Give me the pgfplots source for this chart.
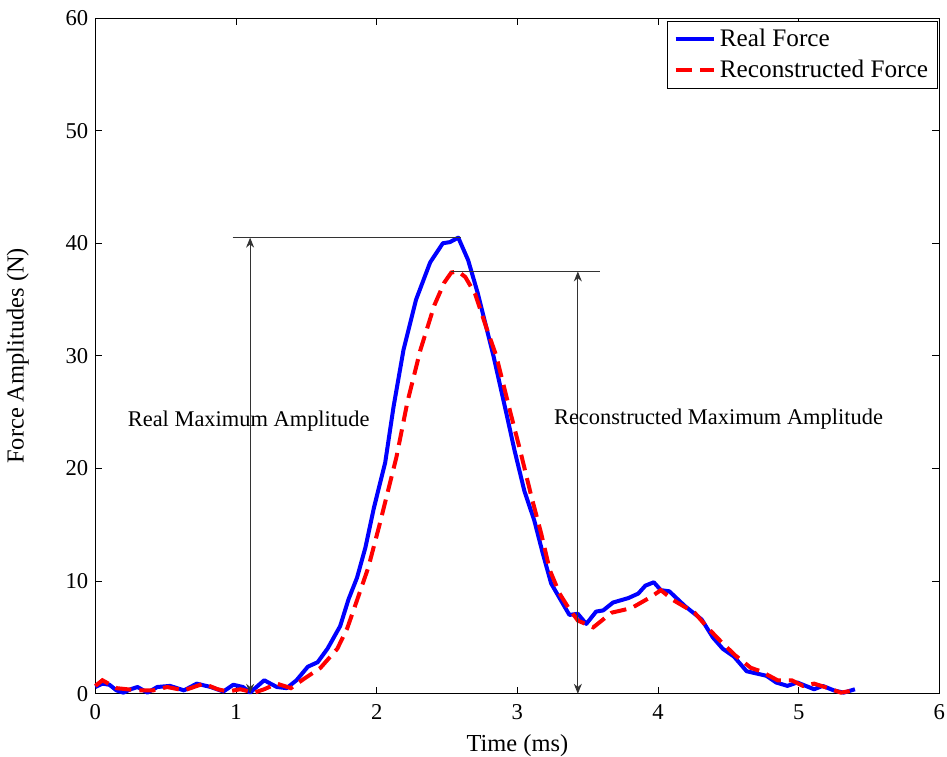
\documentclass[border=0pt]{standalone}
\usepackage{fontspec}
\setmainfont{Liberation Serif}
\usepackage{pgfplots}
\pgfplotsset{compat=1.18}
\usetikzlibrary{arrows.meta}

\begin{document}
\begin{tikzpicture}
  \begin{axis}[
    scale only axis,
    width=421.5pt, height=337.5pt,
    xmin=0, xmax=6,
    ymin=0, ymax=60,
    xtick={0,1,2,3,4,5,6},
    ytick={0,10,20,30,40,50,60},
    tick align=inside,
    major tick length=3.5pt,
    tick style={black, line width=0.4pt},
    axis line style={line width=0.5pt},
    xlabel={Time (ms)},
    ylabel={Force Amplitudes (N)},
    xlabel style={at={(axis description cs:0.5,-0.077)}, anchor=center, inner ysep=0pt},
    ylabel style={at={(axis description cs:-0.092,0.5)}, anchor=center},
    /pgf/number format/assume math mode=true,
    ticklabel style={font=\fontsize{11.3}{13}\selectfont},
    xticklabel style={yshift=-2pt, inner xsep=1pt},
    label style={font=\fontsize{12.2}{14}\selectfont},
    legend style={
      at={(0.999,0.996)}, anchor=north east,
      font=\fontsize{12.6}{15}\selectfont,
      draw=black, line width=0.5pt,
      inner xsep=3pt, inner ysep=2pt, row sep=1pt,
      cells={anchor=west},
    },
    legend image code/.code={
      \draw[#1]
        plot coordinates {(0cm,0cm) (0.67cm,0cm)};
    },
    clip=false,
  ]

    % real force
    \addplot[blue, line width=2pt, line join=round] coordinates {
      (0.00,0.6)(0.05,0.9)(0.10,0.8)(0.15,0.3)(0.20,0.1)(0.25,0.4)(0.30,0.6)
      (0.37,0.1)(0.44,0.6)(0.53,0.7)(0.63,0.3)(0.72,0.9)(0.82,0.6)
      (0.91,0.2)(0.98,0.8)(1.05,0.6)(1.10,0.1)(1.20,1.2)(1.29,0.6)
      (1.36,0.5)(1.43,1.2)(1.51,2.4)(1.58,2.8)(1.65,4.0)(1.74,6.0)
      (1.80,8.4)(1.86,10.3)(1.92,13.0)(1.98,16.5)(2.06,20.5)(2.12,25.5)
      (2.19,30.5)(2.28,35.0)(2.38,38.3)(2.47,40.0)(2.52,40.1)(2.58,40.5)
      (2.65,38.5)(2.72,35.5)(2.78,32.5)(2.83,30.0)(2.92,25.0)(2.98,21.6)
      (3.05,18.0)(3.12,15.4)(3.18,12.5)(3.24,9.8)(3.30,8.5)(3.37,7.0)
      (3.43,7.1)(3.49,6.2)(3.56,7.3)(3.61,7.4)(3.68,8.1)(3.79,8.5)
      (3.86,8.9)(3.91,9.6)(3.97,9.9)(4.02,9.2)(4.08,9.1)(4.19,7.8)
      (4.31,6.6)(4.39,5.0)(4.46,4.0)(4.54,3.3)(4.63,2.0)(4.77,1.6)
      (4.84,1.0)(4.92,0.7)(4.99,1.0)(5.11,0.4)(5.17,0.7)(5.25,0.3)
      (5.32,0.1)(5.40,0.4)
    };
    \addlegendentry{Real Force}

    % reconstructed force
    \addplot[red, line width=2pt, dash pattern=on 8pt off 4pt] coordinates {
      (0.00,0.7)(0.05,1.2)(0.15,0.5)(0.30,0.3)(0.41,0.3)(0.51,0.6)
      (0.63,0.3)(0.77,0.9)(0.87,0.4)(0.94,0.2)(1.03,0.4)(1.13,0.1)
      (1.20,0.4)(1.29,0.9)(1.39,0.5)(1.48,1.3)(1.60,2.3)(1.72,4.0)
      (1.79,5.8)(1.86,8.3)(1.94,11.2)(2.02,15.0)(2.08,18.0)(2.14,21.0)
      (2.22,26.0)(2.31,30.5)(2.41,34.5)(2.48,36.5)(2.53,37.4)(2.58,37.5)
      (2.63,37.0)(2.70,35.5)(2.78,32.5)(2.85,30.0)(2.95,25.0)(3.02,21.6)
      (3.10,17.5)(3.17,14.2)(3.23,11.0)(3.30,8.9)(3.36,7.7)(3.43,6.5)
      (3.54,5.9)(3.67,7.2)(3.81,7.6)(3.95,8.6)(4.02,9.2)(4.11,8.3)
      (4.26,7.2)(4.35,5.9)(4.45,4.6)(4.55,3.4)(4.66,2.3)(4.73,2.0)
      (4.85,1.2)(4.95,1.2)(5.03,0.7)(5.11,0.9)(5.21,0.5)(5.30,0.1)
      (5.39,0.3)
    };
    \addlegendentry{Reconstructed Force}

    % annotations
    \draw[black!80, line width=0.5pt] (axis cs:0.975,40.5) -- (axis cs:2.6,40.5);
    \draw[black!80, line width=0.5pt, {Stealth[length=5pt,width=4pt]}-{Stealth[length=5pt,width=4pt]}]
      (axis cs:1.1,40.5) -- (axis cs:1.1,0);
    \draw[black!80, line width=0.5pt] (axis cs:2.53,37.5) -- (axis cs:3.59,37.5);
    \draw[black!80, line width=0.5pt, {Stealth[length=5pt,width=4pt]}-{Stealth[length=5pt,width=4pt]}]
      (axis cs:3.43,37.5) -- (axis cs:3.43,0);
    \node[font=\fontsize{11.2}{13}\selectfont] at (axis cs:1.09,24.2) {Real Maximum Amplitude};
    \node[font=\fontsize{11.2}{13}\selectfont] at (axis cs:4.43,24.4) {Reconstructed Maximum Amplitude};
    % a little room above the box
    \path (rel axis cs:0.5,1) ++(0,9pt);
  \end{axis}
\end{tikzpicture}
\end{document}
